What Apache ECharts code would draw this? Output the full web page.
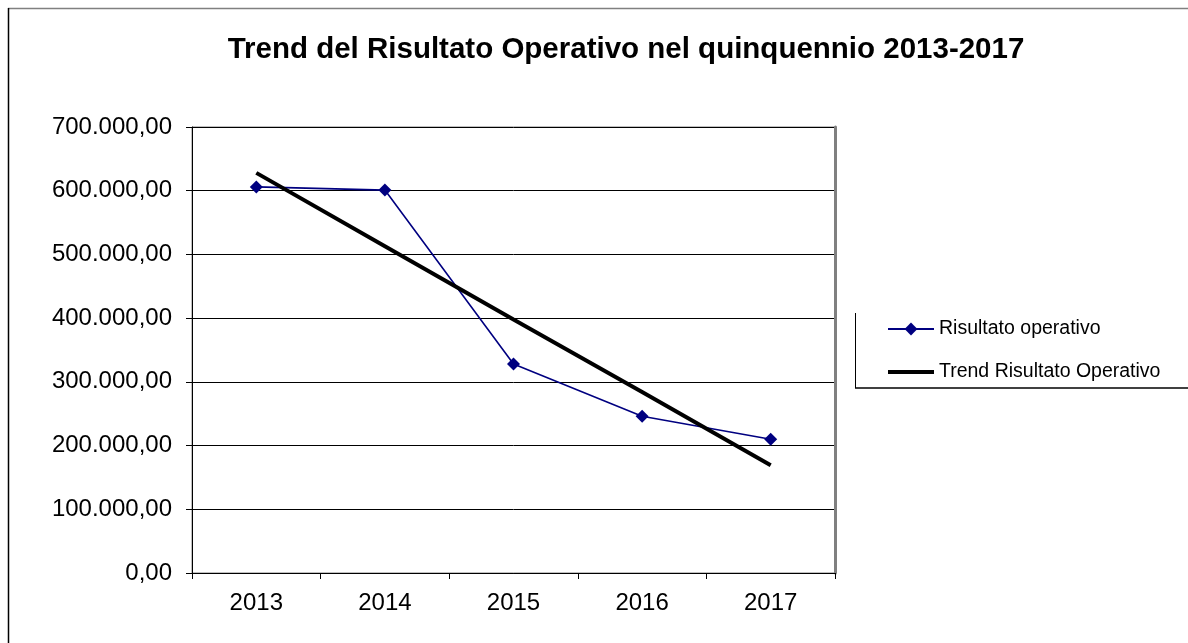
<!DOCTYPE html>
<html>
<head>
<meta charset="utf-8">
<script src="https://cdn.jsdelivr.net/npm/echarts@6/dist/echarts.min.js"></script>
<style>
  html, body { margin: 0; padding: 0; background: #fff; }
  #chart { width: 1188px; height: 643px; }
</style>
</head>
<body>
<div id="chart"></div>
<script>
// dati
const anni = ['2013', '2014', '2015', '2016', '2017'];
const risultato = [606000, 601000, 328000, 246000, 210000];
const trend = [628000, 513000, 398000, 284000, 169000];
const yTicks = { min: 0, max: 700000, step: 100000 };

const font = 'Liberation Sans, Arial, sans-serif';

// 700000 -> "700.000,00"
function fmt(v) {
  const s = String(Math.round(v));
  return s.replace(/\B(?=(\d{3})+(?!\d))/g, '.') + ',00';
}

const chart = echarts.init(document.getElementById('chart'));

chart.setOption({
  animation: false,
  backgroundColor: '#fff',
  title: {
    text: 'Trend del Risultato Operativo nel quinquennio 2013-2017',
    left: 621,
    textAlign: 'center',
    top: 30,
    textStyle: { fontFamily: font, fontSize: 29.5, fontWeight: 'bold', color: '#000' }
  },
  legend: {
    orient: 'vertical',
    left: 887,
    top: 319,
    padding: 0,
    itemWidth: 46,
    itemHeight: 16,
    itemGap: 23,
    textStyle: { fontFamily: font, fontSize: 19.5, color: '#000' },
    data: [
      'Risultato operativo',
      // icona senza simbolo: barra nera sopra la linea
      { name: 'Trend Risultato Operativo', icon: 'path://M0,0H48V4H0Z' }
    ]
  },
  grid: {
    left: 192, right: 353, top: 127, bottom: 70,
    show: true, borderColor: '#808080', borderWidth: 1
  },
  xAxis: {
    type: 'category',
    data: anni,
    boundaryGap: true,
    axisLine: { lineStyle: { color: '#000', width: 1 } },
    axisTick: { show: true, interval: 0, length: 6, lineStyle: { color: '#000' } },
    axisLabel: { fontFamily: font, fontSize: 24, color: '#000', margin: 18 }
  },
  yAxis: [{
    type: 'value',
    min: yTicks.min,
    max: yTicks.max,
    interval: yTicks.step,
    axisLine: { show: true, lineStyle: { color: '#000', width: 1 } },
    axisTick: { show: true, length: 6, lineStyle: { color: '#000' } },
    splitLine: { show: true, lineStyle: { color: '#000', width: 1 } },
    axisLabel: { fontFamily: font, fontSize: 24, color: '#000', margin: 20, formatter: fmt }
  }, {
    type: 'value',
    position: 'right',
    min: yTicks.min,
    max: yTicks.max,
    interval: yTicks.step,
    axisLine: { show: true, lineStyle: { color: '#808080', width: 3 } },
    axisTick: { show: false },
    axisLabel: { show: false },
    splitLine: { show: false }
  }],
  series: [{
    name: 'Risultato operativo',
    type: 'line',
    data: risultato,
    symbol: 'diamond',
    symbolSize: 13,
    itemStyle: { color: '#000080' },
    lineStyle: { color: '#000080', width: 1.6 },
    z: 3
  }, {
    name: 'Trend Risultato Operativo',
    type: 'line',
    data: trend,
    symbol: 'none',
    itemStyle: { color: '#000' },
    lineStyle: { color: '#000', width: 4 },
    z: 4
  }],
  graphic: [
    // cornice esterna
    { type: 'line', shape: { x1: 8, y1: 8.5, x2: 1188, y2: 8.5 }, style: { stroke: '#808080', lineWidth: 1.5 } },
    { type: 'line', shape: { x1: 8.5, y1: 8, x2: 8.5, y2: 643 }, style: { stroke: '#000', lineWidth: 1.5 } },
    // riquadro legenda
    { type: 'line', shape: { x1: 855.5, y1: 313, x2: 855.5, y2: 388 }, style: { stroke: '#000', lineWidth: 1 } },
    { type: 'line', shape: { x1: 855, y1: 388, x2: 1188, y2: 388 }, style: { stroke: '#000', lineWidth: 1.5 } }
  ]
});
</script>
</body>
</html>
